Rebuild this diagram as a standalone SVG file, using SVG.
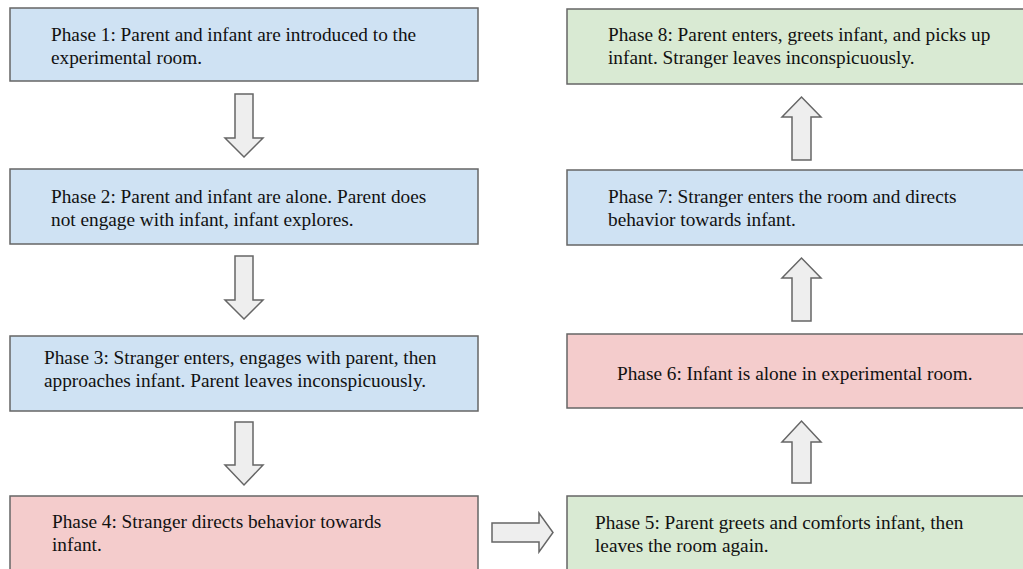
<svg xmlns="http://www.w3.org/2000/svg" width="1023" height="569" viewBox="0 0 1023 569">
<style>
.box{stroke:#666;stroke-width:1.5}
.blue{fill:#cfe2f3}
.green{fill:#d9ead3}
.red{fill:#f4cccc}
.arrow{fill:#eeeeee;stroke:#666;stroke-width:1.5;stroke-linejoin:miter}
text{font-family:"Liberation Serif","Times New Roman",serif;font-size:19.3px;fill:#111}
</style>
<rect width="1023" height="569" fill="#fff"/>
<g id="phase1"><rect class="box blue" x="10" y="8" width="468" height="73"/><text x="51" y="41">Phase 1: Parent and infant are introduced to the</text><text x="51" y="64">experimental room.</text></g>
<g id="phase2"><rect class="box blue" x="10" y="169" width="468" height="75"/><text x="51" y="203">Phase 2: Parent and infant are alone. Parent does</text><text x="51" y="226">not engage with infant, infant explores.</text></g>
<g id="phase3"><rect class="box blue" x="10" y="336" width="468" height="75"/><text x="44" y="364">Phase 3: Stranger enters, engages with parent, then</text><text x="44" y="387">approaches infant. Parent leaves inconspicuously.</text></g>
<g id="phase4"><rect class="box red" x="10" y="496" width="468" height="80"/><text x="52" y="528">Phase 4: Stranger directs behavior towards</text><text x="52" y="551">infant.</text></g>
<g id="phase5"><rect class="box green" x="567" y="496" width="470" height="80"/><text x="595" y="529">Phase 5: Parent greets and comforts infant, then</text><text x="595" y="552">leaves the room again.</text></g>
<g id="phase6"><rect class="box red" x="567" y="334" width="470" height="74"/><text x="617" y="380">Phase 6: Infant is alone in experimental room.</text></g>
<g id="phase7"><rect class="box blue" x="567" y="170" width="470" height="75"/><text x="608" y="203">Phase 7: Stranger enters the room and directs</text><text x="608" y="226">behavior towards infant.</text></g>
<g id="phase8"><rect class="box green" x="567" y="9" width="470" height="75"/><text x="608" y="41">Phase 8: Parent enters, greets infant, and picks up</text><text x="608" y="64">infant. Stranger leaves inconspicuously.</text></g>
<g id="connectors">
<path class="arrow" d="M235,94 H253 V138 H263 L244,157 L225,138 H235 Z"/>
<path class="arrow" d="M235,256 H253 V300 H263 L244,319 L225,300 H235 Z"/>
<path class="arrow" d="M235,422 H253 V465 H263 L244,485 L225,465 H235 Z"/>
<path class="arrow" d="M492,523 H539 V513 L553,532.5 L539,552 V542 H492 Z"/>
<path class="arrow" d="M792,483 H811 V442 H821 L801.5,421 L782,442 H792 Z"/>
<path class="arrow" d="M792,321 H811 V278 H821 L801.5,258 L782,278 H792 Z"/>
<path class="arrow" d="M792,160 H811 V117 H821 L801.5,97 L782,117 H792 Z"/>
</g>
</svg>
